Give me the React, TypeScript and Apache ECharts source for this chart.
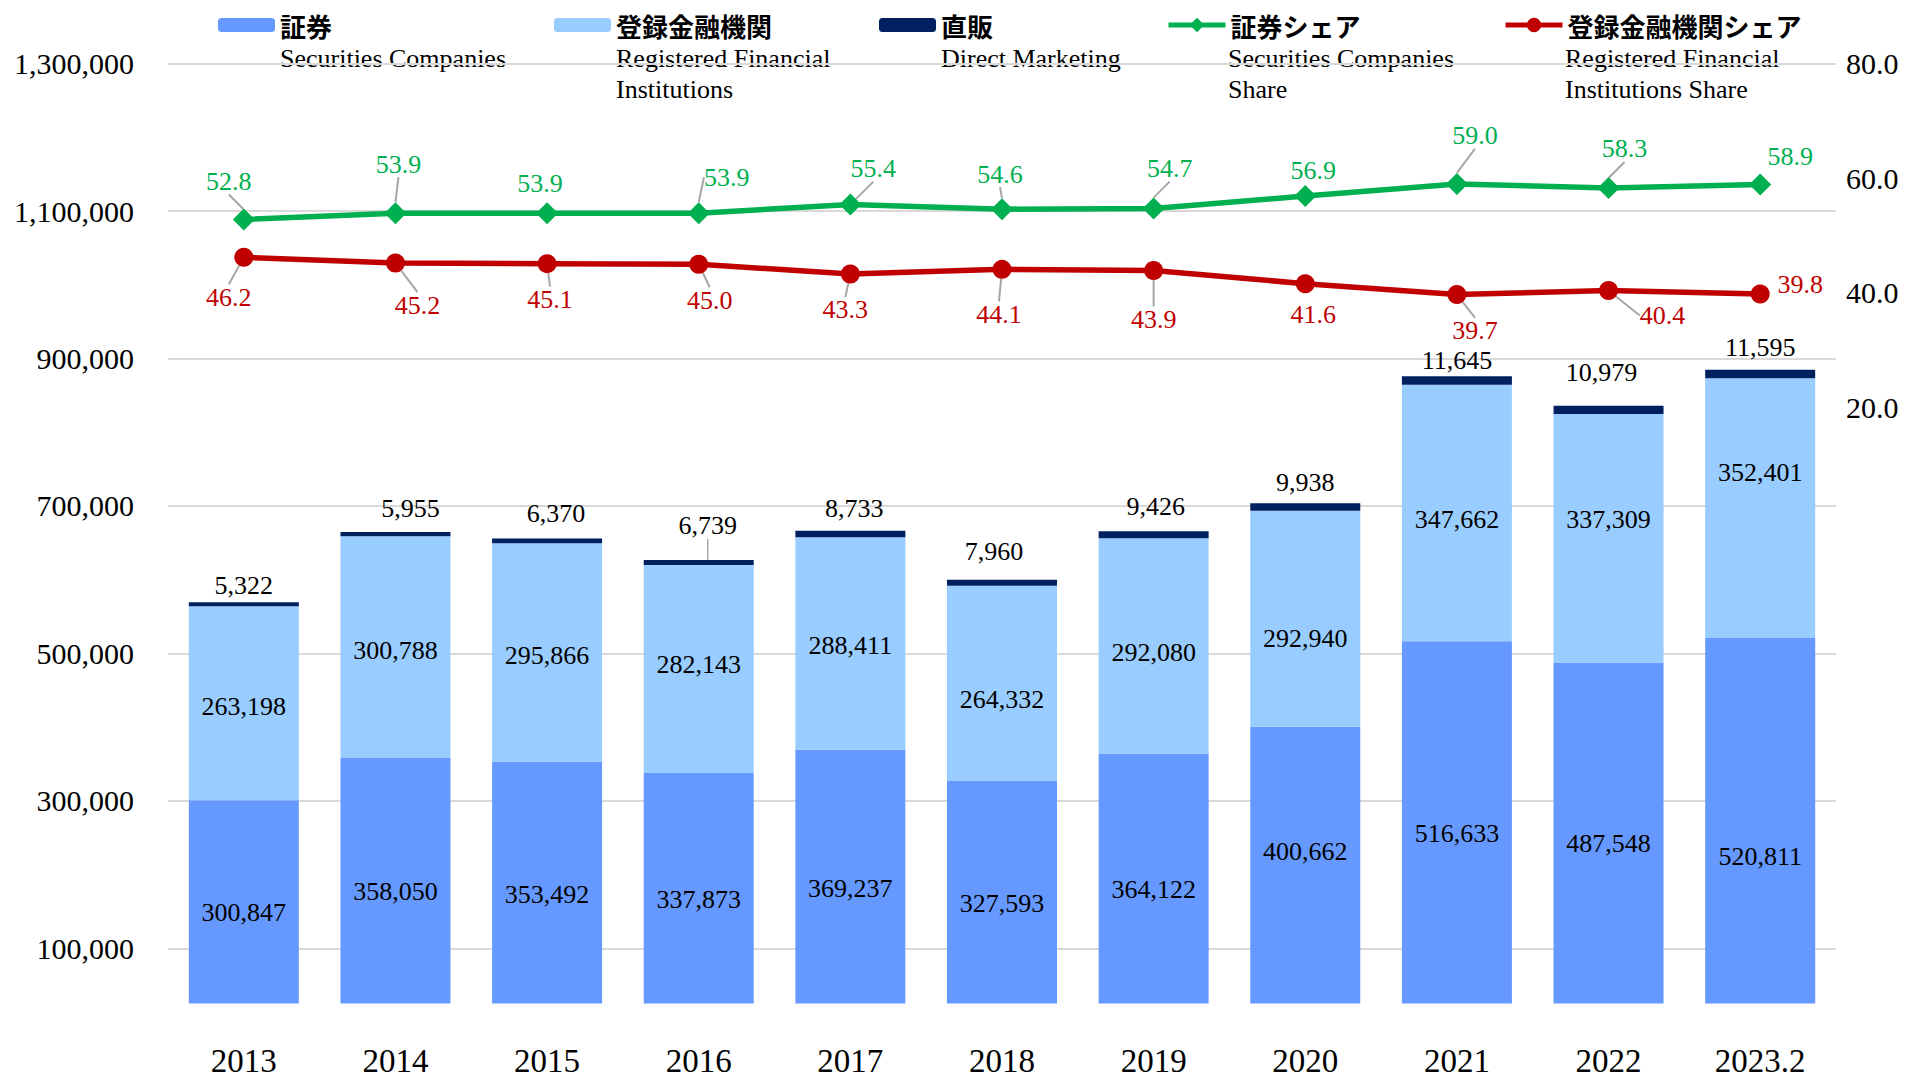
import React, { useEffect, useRef } from 'react';
import * as echarts from 'echarts';

// ---------- data ----------
const categories = ['2013', '2014', '2015', '2016', '2017', '2018', '2019', '2020', '2021', '2022', '2023.2'];
const securities = [300847, 358050, 353492, 337873, 369237, 327593, 364122, 400662, 516633, 487548, 520811];
const registered = [263198, 300788, 295866, 282143, 288411, 264332, 292080, 292940, 347662, 337309, 352401];
const direct = [5322, 5955, 6370, 6739, 8733, 7960, 9426, 9938, 11645, 10979, 11595];
const securitiesShare = [52.8, 53.9, 53.9, 53.9, 55.4, 54.6, 54.7, 56.9, 59.0, 58.3, 58.9];
const registeredShare = [46.2, 45.2, 45.1, 45.0, 43.3, 44.1, 43.9, 41.6, 39.7, 40.4, 39.8];
const leftTicks = [100000, 300000, 500000, 700000, 900000, 1100000, 1300000];
const rightTicks = [20, 40, 60, 80];
const namesJa = ['証券', '登録金融機関', '直販', '証券シェア', '登録金融機関シェア'];
const namesEn = [
  'Securities Companies',
  'Registered Financial\nInstitutions',
  'Direct Marketing',
  'Securities Companies\nShare',
  'Registered Financial\nInstitutions Share',
];

// ---------- label nudges (px, styling only) ----------
const secLabelDy = [11, 11, 12, 11, 12, 11, 11, -14, 11, 10, 36];
const regLabelDy = [3, 3, 3, -4, 2, 16, 7, 20, 7, -19, -36];
const directNudge = [[0, 1], [15, -5], [9, -7], [9, -16], [4, -4], [-8, -10], [2, -7], [0, -3], [0, 2], [-7, -15], [0, -4]];
const greenNudge = [[-15, -38], [3, -49], [-7, -30], [28, -36], [23, -36], [-2, -35], [16, -40], [8, -26], [18, -48], [16, -39], [30, -28]];
const redNudge = [[-15, 40], [22, 42], [3, 36], [11, 36], [-5, 36], [-3, 45], [0, 49], [8, 31], [18, 36], [54, 25], [40, -10]];
const greenLeader = [true, true, false, true, true, true, true, false, true, true, false];
const redLeader = [true, true, true, true, true, true, true, false, true, true, false];

const SERIF = '"Liberation Serif", "Times New Roman", serif';
const JA = '"Noto Sans CJK JP", "Noto Sans", sans-serif';
const C_SEC = '#6699FF';
const C_REG = '#99CCFF';
const C_DIR = '#002060';
const C_GREEN = '#00B050';
const C_RED = '#C00000';
const LEADER = '#A6A6A6';

const fmt = (v: number) => Number(v).toLocaleString('en-US');

const legendLeft = [218, 554, 879, 1166, 1503];
const ITEM_W = 57;

export default function App() {
  const ref = useRef<HTMLDivElement>(null);

  useEffect(() => {
    const chart = echarts.init(ref.current!, null, { renderer: 'svg' });

    const option: any = {
      animation: false,
      backgroundColor: '#ffffff',
      textStyle: { fontFamily: SERIF },
      grid: {
        left: 168,
        right: 83,
        top: 63.6,
        bottom: 75.4,
        containLabel: false,
        outerBoundsMode: 'none',
      },
      legend: namesJa.map((n, i) => {
        const isLine = i >= 3;
        return {
          data: [n],
          left: legendLeft[i],
          top: 12,
          padding: 0,
          itemWidth: ITEM_W,
          itemHeight: isLine ? 18 : 14,
          itemGap: 0,
          selectedMode: false,
          lineStyle: isLine ? { width: 5 } : undefined,
          textStyle: { fontFamily: JA, fontSize: 26, fontWeight: 'bold', color: '#000' },
        };
      }),
      graphic: namesEn.map((t, i) => ({
        type: 'text',
        x: legendLeft[i] + ITEM_W + 5,
        y: 43,
        silent: true,
        style: {
          text: t,
          fontFamily: SERIF,
          fontSize: 26,
          lineHeight: 31,
          fill: '#000',
          verticalAlign: 'top',
          align: 'left',
        },
      })),
      xAxis: {
        type: 'category',
        data: categories,
        axisLine: { show: false },
        axisTick: { show: false },
        axisLabel: { fontFamily: SERIF, fontSize: 33, lineHeight: 30, color: '#000', margin: 42 },
      },
      yAxis: [
        {
          type: 'value',
          min: 25000,
          max: 1300000,
          axisLine: { show: false },
          axisTick: { show: false, customValues: leftTicks },
          axisLabel: {
            customValues: leftTicks,
            fontFamily: SERIF,
            fontSize: 30,
            color: '#000',
            margin: 34,
            formatter: (v: number) => fmt(v),
          },
          splitLine: { show: true, lineStyle: { color: '#D9D9D9', width: 2 } },
        },
        {
          type: 'value',
          min: -84,
          max: 80,
          axisLine: { show: false },
          axisTick: { show: false, customValues: rightTicks },
          axisLabel: {
            customValues: rightTicks,
            fontFamily: SERIF,
            fontSize: 30,
            color: '#000',
            margin: 10,
            formatter: (v: number) => v.toFixed(1),
          },
          splitLine: { show: false },
        },
      ],
      series: [
        {
          name: namesJa[0],
          type: 'bar',
          stack: 'total',
          data: securities,
          barWidth: 110,
          itemStyle: { color: C_SEC },
          label: {
            show: true,
            position: 'inside',
            color: '#000',
            fontFamily: SERIF,
            fontSize: 26,
            formatter: (p: any) => fmt(p.value),
          },
          labelLayout: (p: any) => ({ dy: secLabelDy[p.dataIndex] }),
        },
        {
          name: namesJa[1],
          type: 'bar',
          stack: 'total',
          data: registered,
          barWidth: 110,
          itemStyle: { color: C_REG },
          label: {
            show: true,
            position: 'inside',
            color: '#000',
            fontFamily: SERIF,
            fontSize: 26,
            formatter: (p: any) => fmt(p.value),
          },
          labelLayout: (p: any) => ({ dy: regLabelDy[p.dataIndex] }),
        },
        {
          name: namesJa[2],
          type: 'bar',
          stack: 'total',
          data: direct.map((v, i) => ({ value: v, labelLine: { show: i === 3 } })),
          barWidth: 110,
          itemStyle: { color: C_DIR },
          label: {
            show: true,
            position: 'top',
            distance: 5,
            color: '#000',
            fontFamily: SERIF,
            fontSize: 26,
            formatter: (p: any) => fmt(p.value),
          },
          labelLine: { show: false, lineStyle: { color: LEADER, width: 1.5 } },
          labelLayout: (p: any) => ({ dx: directNudge[p.dataIndex][0], dy: directNudge[p.dataIndex][1] }),
        },
        {
          name: namesJa[3],
          type: 'line',
          yAxisIndex: 1,
          data: securitiesShare.map((v, i) => ({ value: v, labelLine: { show: greenLeader[i] } })),
          symbol: 'diamond',
          symbolSize: 22,
          lineStyle: { color: C_GREEN, width: 5.5 },
          itemStyle: { color: C_GREEN },
          z: 5,
          label: {
            show: true,
            position: 'inside',
            color: C_GREEN,
            fontFamily: SERIF,
            fontSize: 26,
            formatter: (p: any) => Number(p.value).toFixed(1),
          },
          labelLine: { show: true, lineStyle: { color: LEADER, width: 2 } },
          labelLayout: (p: any) => ({ dx: greenNudge[p.dataIndex][0], dy: greenNudge[p.dataIndex][1] }),
        },
        {
          name: namesJa[4],
          type: 'line',
          yAxisIndex: 1,
          data: registeredShare.map((v, i) => ({ value: v, labelLine: { show: redLeader[i] } })),
          symbol: 'circle',
          symbolSize: 19,
          lineStyle: { color: C_RED, width: 5.5 },
          itemStyle: { color: C_RED },
          z: 5,
          label: {
            show: true,
            position: 'inside',
            color: C_RED,
            fontFamily: SERIF,
            fontSize: 26,
            formatter: (p: any) => Number(p.value).toFixed(1),
          },
          labelLine: { show: true, lineStyle: { color: LEADER, width: 2 } },
          labelLayout: (p: any) => ({ dx: redNudge[p.dataIndex][0], dy: redNudge[p.dataIndex][1] }),
        },
      ],
    };

    chart.setOption(option);
    return () => chart.dispose();
  }, []);

  return (
    <div
      ref={ref}
      style={{ position: 'fixed', left: 0, top: 0, width: 1919, height: 1079 }}
    />
  );
}
